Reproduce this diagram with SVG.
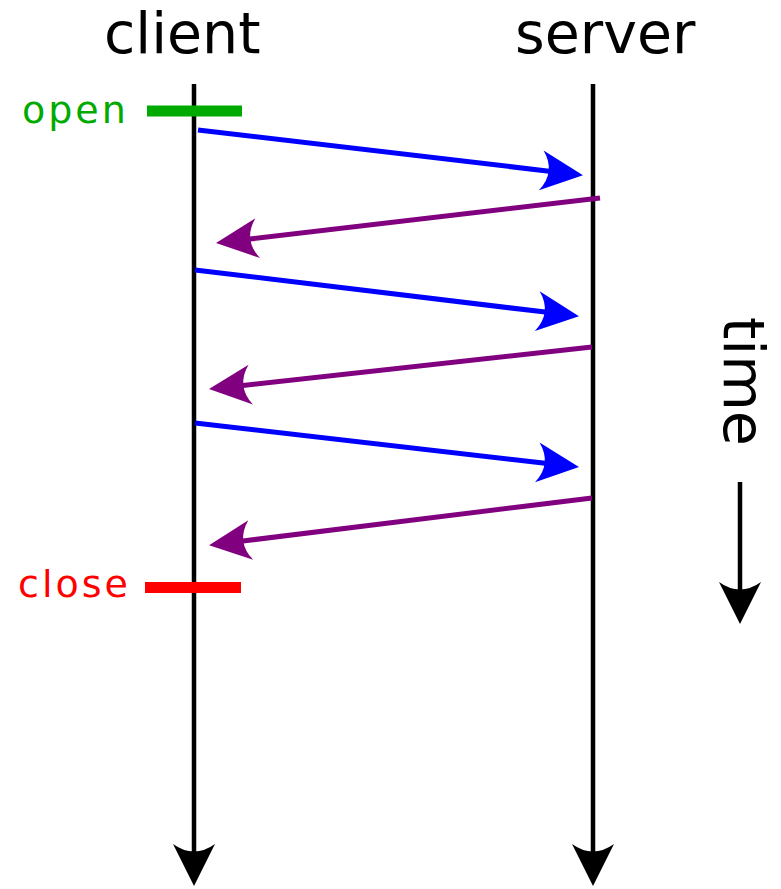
<svg xmlns="http://www.w3.org/2000/svg" width="781" height="889" viewBox="0 0 781 889">
  <style>
    .title { font-family: "DejaVu Sans", sans-serif; font-size: 57px; fill: #000; }
    .label { font-family: "DejaVu Sans", sans-serif; font-size: 38px; }
    .life { stroke: #000; stroke-width: 4.5; fill: none; marker-end: url(#mBlk); }
    .req { stroke: #0000ff; stroke-width: 5; fill: none; marker-end: url(#mBlue); }
    .resp { stroke: #800080; stroke-width: 5; fill: none; marker-end: url(#mPurple); }
    .bar { stroke-width: 11; fill: none; }
  </style>
  <defs>
    <marker id="mBlue" markerUnits="userSpaceOnUse" orient="auto" markerWidth="60" markerHeight="60" refX="8" refY="0" viewBox="-5 -30 60 60" overflow="visible">
      <path d="M42,0 L0,-20 Q15,0 0,20 Z" fill="#0000ff"/>
    </marker>
    <marker id="mPurple" markerUnits="userSpaceOnUse" orient="auto" markerWidth="60" markerHeight="60" refX="8" refY="0" viewBox="-5 -30 60 60" overflow="visible">
      <path d="M42,0 L0,-20 Q15,0 0,20 Z" fill="#800080"/>
    </marker>
    <marker id="mBlk" markerUnits="userSpaceOnUse" orient="auto" markerWidth="60" markerHeight="60" refX="8" refY="0" viewBox="-5 -30 60 60" overflow="visible">
      <path d="M42,0 L0,-21 Q15,0 0,21 Z" fill="#000"/>
    </marker>
  </defs>

  <g id="client">
    <text class="title" x="104" y="53">client</text>
    <line class="life" x1="194" y1="84" x2="194" y2="852"/>
  </g>
  <g id="server">
    <text class="title" x="515" y="53">server</text>
    <line class="life" x1="593" y1="84" x2="593" y2="852"/>
  </g>
  <g id="open">
    <text class="label" x="22" y="123" fill="#00aa00" letter-spacing="3">open</text>
    <line class="bar" x1="147" y1="111" x2="242" y2="111" stroke="#00aa00"/>
  </g>
  <g id="close">
    <text class="label" x="18" y="597" fill="#ff0000" letter-spacing="3">close</text>
    <line class="bar" x1="145" y1="587.5" x2="241" y2="587.5" stroke="#ff0000"/>
  </g>
  <g id="time">
    <text class="title" transform="translate(724,317) rotate(90)" font-size="56">time</text>
    <line class="life" x1="740" y1="482" x2="740" y2="590"/>
  </g>

  <g id="connectors">
    <line class="req" x1="198" y1="130" x2="549.2" y2="171.2"/>
    <line class="resp" x1="600" y1="198" x2="249.8" y2="239.1"/>
    <line class="req" x1="195" y1="270" x2="545.2" y2="312.1"/>
    <line class="resp" x1="592" y1="347" x2="242.8" y2="385.4"/>
    <line class="req" x1="195" y1="423" x2="545.2" y2="463.2"/>
    <line class="resp" x1="592" y1="498" x2="242.8" y2="541.0"/>
  </g>
</svg>
